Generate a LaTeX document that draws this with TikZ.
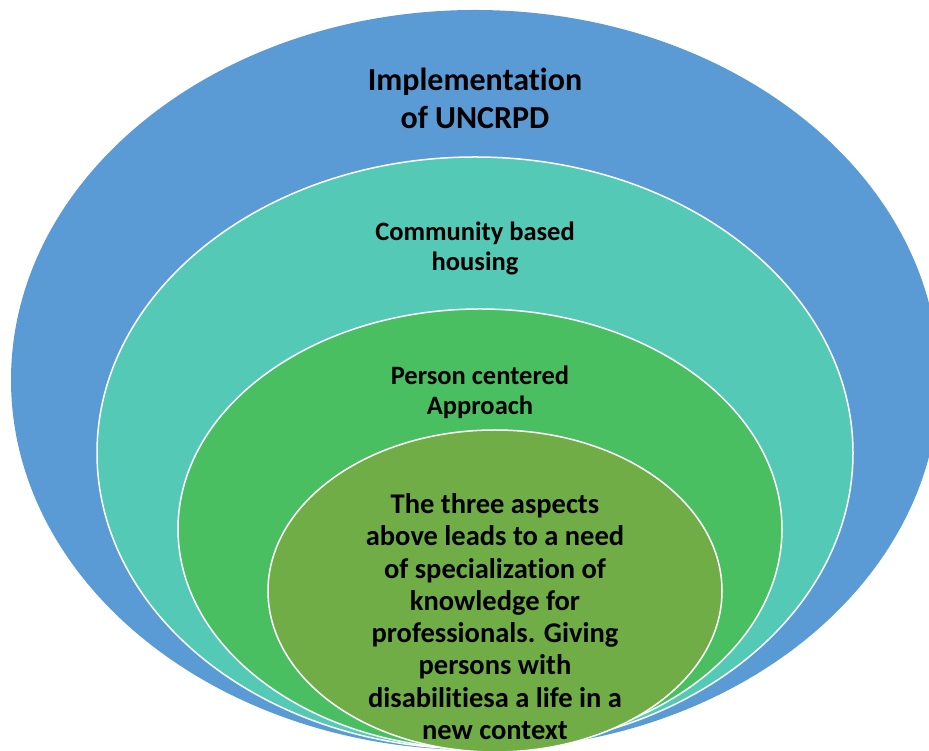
\documentclass[tikz,border=0pt]{standalone}
\usepackage{fontspec}
\setmainfont{Carlito}[Ligatures=CommonOff]
\usetikzlibrary{positioning,shapes.geometric}

\definecolor{ringblue}{HTML}{5B9BD5}
\definecolor{ringteal}{HTML}{53C9B6}
\definecolor{ringgreen}{HTML}{4ABF62}
\definecolor{ringolive}{HTML}{70AD47}

\begin{document}
\begin{tikzpicture}[x=1pt, y=1pt,
	ring/.style = {ellipse, draw=white, line width=1.5pt, inner sep=0pt},
	lbl/.style = {align=center, inner sep=0pt, font=\bfseries\fontsize{26.5}{30}\selectfont}]
	\useasboundingbox (0,0) rectangle (929,751);
	\clip (0,0) rectangle (929,751);

	% rings, outer to inner
	\node[ring, draw=none, fill=ringblue, minimum width=928pt, minimum height=740pt] (blue) at (475,371) {};
	\node[ring, fill=ringteal, minimum width=756pt, minimum height=592pt] (teal) at (475,298) {};
	\node[ring, fill=ringgreen, minimum width=604pt, minimum height=440pt] (green) at (480,222) {};
	\node[ring, fill=ringolive, minimum width=454pt, minimum height=322pt] (olive) at (495,160) {};

	% texts
	\node[lbl, font=\bfseries\fontsize{32}{38}\selectfont, below=59pt of blue.north] (uncrpd) {Implementation\\of UNCRPD};
	\node[lbl, below=65pt of teal.north] (housing) {Community based\\housing};
	\node[lbl, below=57pt of green.north] (approach) {Person centered\\Approach};
	\node[lbl, font=\bfseries\fontsize{28.5}{32.3}\selectfont, below=64pt of olive.north] (aspects) {The three aspects\\above leads to a need\\of specialization of\\knowledge for\\professionals. Giving\\persons with\\disabilitiesa a life in a\\new context};
\end{tikzpicture}
\end{document}
